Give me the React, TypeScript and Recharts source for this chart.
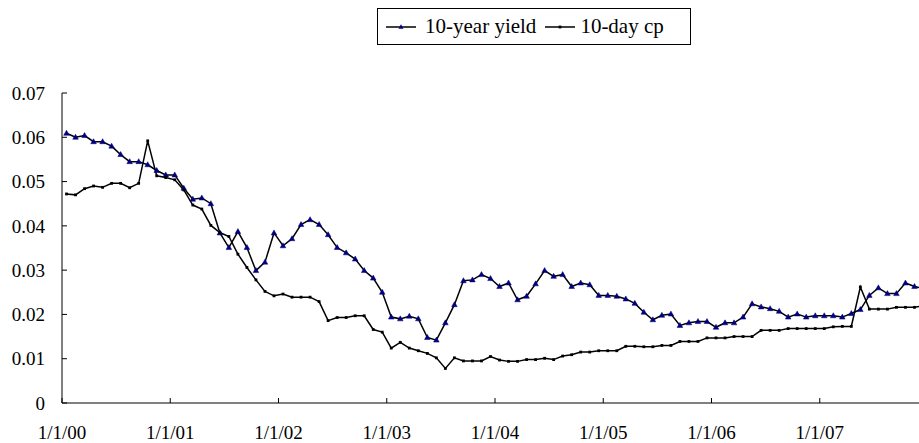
import { LineChart, Line, XAxis, YAxis, Legend } from 'recharts';

// monthly observations, Jan 2000 .. Dec 2007
const yield10y = [
  0.0609, 0.0600, 0.0604, 0.0590, 0.0590, 0.0580, 0.0561, 0.0545, 0.0545, 0.0538, 0.0525, 0.0515,
  0.0515, 0.0485, 0.0460, 0.0463, 0.0450, 0.0384, 0.0351, 0.0387, 0.0351, 0.0299, 0.0318, 0.0384,
  0.0355, 0.0371, 0.0403, 0.0414, 0.0403, 0.0380, 0.0351, 0.0339, 0.0325, 0.0299, 0.0282, 0.0250,
  0.0194, 0.0190, 0.0196, 0.0190, 0.0148, 0.0142, 0.0181, 0.0222, 0.0276, 0.0278, 0.0290, 0.0281,
  0.0263, 0.0271, 0.0233, 0.0241, 0.0269, 0.0299, 0.0286, 0.0290, 0.0263, 0.0271, 0.0267, 0.0243,
  0.0243, 0.0241, 0.0235, 0.0225, 0.0205, 0.0188, 0.0198, 0.0201, 0.0175, 0.0181, 0.0184, 0.0184,
  0.0171, 0.0181, 0.0181, 0.0194, 0.0224, 0.0217, 0.0213, 0.0207, 0.0194, 0.0201, 0.0194, 0.0197,
  0.0197, 0.0197, 0.0194, 0.0202, 0.0211, 0.0243, 0.0260, 0.0247, 0.0247, 0.0271, 0.0263, 0.0259,
];

const cp10d = [
  0.0472, 0.0470, 0.0484, 0.0490, 0.0487, 0.0496, 0.0496, 0.0486, 0.0496, 0.0592, 0.0513, 0.0509,
  0.0504, 0.0481, 0.0447, 0.0438, 0.0401, 0.0385, 0.0376, 0.0336, 0.0306, 0.0278, 0.0252, 0.0242,
  0.0246, 0.0239, 0.0239, 0.0239, 0.0229, 0.0186, 0.0193, 0.0193, 0.0197, 0.0197, 0.0166, 0.0160,
  0.0124, 0.0137, 0.0124, 0.0118, 0.0112, 0.0102, 0.0078, 0.0102, 0.0095, 0.0095, 0.0095, 0.0105,
  0.0097, 0.0094, 0.0094, 0.0098, 0.0098, 0.0101, 0.0098, 0.0106, 0.0109, 0.0115, 0.0115, 0.0118,
  0.0118, 0.0118, 0.0128, 0.0128, 0.0127, 0.0127, 0.0130, 0.0130, 0.0139, 0.0139, 0.0139, 0.0147,
  0.0147, 0.0147, 0.0150, 0.0150, 0.0150, 0.0164, 0.0164, 0.0164, 0.0168, 0.0168, 0.0168, 0.0168,
  0.0168, 0.0172, 0.0173, 0.0173, 0.0262, 0.0212, 0.0212, 0.0212, 0.0216, 0.0216, 0.0216, 0.0220,
];

const yearLabels = ['1/1/00', '1/1/01', '1/1/02', '1/1/03', '1/1/04', '1/1/05', '1/1/06', '1/1/07'];
const yearTicks = yearLabels.map((_, k) => k * 12);
const yTicks = [0, 0.01, 0.02, 0.03, 0.04, 0.05, 0.06, 0.07];

// x = months since 1/1/00, plotted mid-month
const data = yield10y.map((v, i) => ({ t: i + 0.5, yield: v, cp: cp10d[i] }));

const FONT = 'Liberation Serif';
const NAVY = '#000080';

function Tri(p: any) {
  const { cx, cy, key } = p;
  if (cx == null || cy == null) return <g key={key} />;
  return (
    <path key={key} d={`M${cx},${cy - 3}L${cx + 2.8},${cy + 2}L${cx - 2.8},${cy + 2}Z`}
      fill={NAVY} stroke={NAVY} strokeWidth={0.5} />
  );
}

function Sq(p: any) {
  const { cx, cy, key } = p;
  if (cx == null || cy == null) return <g key={key} />;
  return <rect key={key} x={cx - 1.4} y={cy - 1.4} width={2.8} height={2.8} fill="#000" />;
}

function LegendBox() {
  return (
    <div style={{
      width: 314, height: 37, border: '1px solid #000', boxSizing: 'border-box', background: '#fff',
      display: 'flex', alignItems: 'center', fontFamily: FONT, fontSize: 21, color: '#000',
      whiteSpace: 'nowrap',
    }}>
      <svg width={30} height={10} style={{ marginLeft: 8 }}>
        <line x1={0} y1={5} x2={30} y2={5} stroke="#000" strokeWidth={1.5} />
        <path d="M15,2.2L17.5,6.8L12.5,6.8Z" fill={NAVY} />
      </svg>
      <span style={{ marginLeft: 9 }}>10-year yield</span>
      <svg width={30} height={10} style={{ marginLeft: 9 }}>
        <line x1={0} y1={5} x2={30} y2={5} stroke="#000" strokeWidth={1.5} />
        <rect x={13.6} y={3.6} width={2.8} height={2.8} fill="#000" />
      </svg>
      <span style={{ marginLeft: 5 }}>10-day cp</span>
    </div>
  );
}

export default function App() {
  const tickStyle = { fill: '#000', fontSize: 19, fontFamily: FONT };
  return (
    <div style={{ position: 'fixed', left: 0, top: 0, width: 919, height: 443, overflow: 'hidden', background: '#fff', fontFamily: FONT }}>
      <LineChart width={930} height={443} data={data} margin={{ top: 93, right: 2, bottom: 0, left: 0 }}
        style={{ fontFamily: FONT }}>
        <XAxis
          type="number"
          dataKey="t"
          domain={[0, 96]}
          ticks={yearTicks}
          interval={0}
          tickFormatter={(v: number) => yearLabels[Math.round(v / 12)]}
          height={40}
          tick={tickStyle}
          fontFamily={FONT}
          stroke="#000"
          tickSize={-5}
          tickMargin={28}
        />
        <YAxis
          type="number"
          domain={[0, 0.07]}
          ticks={yTicks}
          interval={0}
          width={62}
          tickFormatter={(v: number) => (v === 0 ? '0' : v.toFixed(2))}
          tick={tickStyle}
          fontFamily={FONT}
          stroke="#000"
          tickSize={-5}
          tickMargin={22}
        />
        <Legend
          layout="horizontal"
          verticalAlign="middle"
          align="center"
          wrapperStyle={{ top: 8, left: 377, width: 314, height: 37, fontFamily: FONT }}
          content={() => <LegendBox />}
        />
        <Line type="linear" dataKey="yield" name="10-year yield" stroke="#000" strokeWidth={1.5}
          dot={Tri} activeDot={false} isAnimationActive={false} />
        <Line type="linear" dataKey="cp" name="10-day cp" stroke="#000" strokeWidth={1.5}
          dot={Sq} activeDot={false} isAnimationActive={false} />
      </LineChart>
    </div>
  );
}
